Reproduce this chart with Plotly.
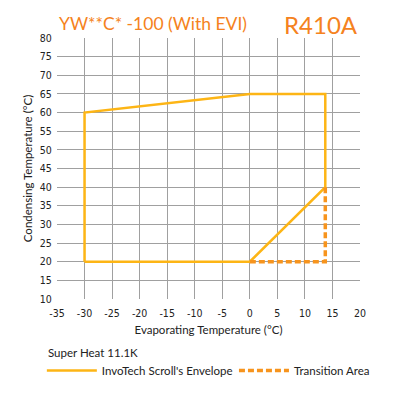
import plotly.graph_objects as go

# Envelope (solid) and transition area (dashed)
env_x = [-30, -30, 0, 13.7, 13.7, 0, -30]
env_y = [20, 60, 65, 65, 40, 20, 20]
trans_x = [0, 13.7, 13.7]
trans_y = [20, 20, 40]

x_ticks = [-35, -30, -25, -20, -15, -10, -5, 0, 5, 10, 15, 20]
x_tick_labels = ["-35", "-30", "-25", "-20", "-15", "-10", "-5", "0", "5", "10", "15", "20"]
y_ticks = [10, 15, 20, 25, 30, 35, 40, 45, 50, 55, 60, 65, 70, 75, 80]

title_left = "YW**C* -100 (With EVI)"
title_right = "R410A"
note = "Super Heat 11.1K"

fig = go.Figure()
fig.add_trace(go.Scatter(x=env_x, y=env_y, mode="lines",
                         line=dict(color="#FDB515", width=2.5),
                         name="InvoTech Scroll's Envelope", legend="legend"))
fig.add_trace(go.Scatter(x=trans_x, y=trans_y, mode="lines",
                         line=dict(color="#F7941D", width=3.5, dash="6px,3px"),
                         name="Transition Area", legend="legend2"))

tick_font = dict(family="DejaVu Sans Condensed, DejaVu Sans", size=10.5, color="#222")
axis_title_font = dict(family="Lato", size=11.5, color="#222")
fig.update_xaxes(range=[-35, 20], tickvals=x_ticks, ticktext=x_tick_labels,
                 showgrid=True, gridcolor="#A0A0A0", gridwidth=1, zeroline=False,
                 showline=False, ticks="outside", ticklen=4, tickcolor="rgba(0,0,0,0)",
                 tickfont=tick_font, automargin=False,
                 title=dict(text="Evaporating Temperature (°C)", font=axis_title_font, standoff=8))
fig.update_yaxes(range=[10, 80], tickvals=y_ticks, showgrid=True, gridcolor="#A0A0A0",
                 gridwidth=1, zeroline=False, showline=False, ticks="outside", ticklen=2,
                 tickcolor="rgba(0,0,0,0)", tickfont=tick_font, automargin=False,
                 title=dict(text="Condensing Temperature (°C)", font=axis_title_font, standoff=4))

fig.add_annotation(text=title_left, xref="paper", yref="paper", x=0.0, y=1.0, yshift=15,
                   xanchor="left", yanchor="middle", showarrow=False,
                   font=dict(family="Lato", size=17.5, color="#F58220"))
fig.add_annotation(text=title_right, xref="paper", yref="paper", x=1.0, y=1.0, yshift=14,
                   xanchor="right", yanchor="middle", showarrow=False,
                   font=dict(family="Lato", size=24, color="#F58220"))
fig.add_annotation(text=note, xref="paper", yref="paper", x=-0.036, y=0, yshift=-53,
                   xanchor="left", yanchor="middle", showarrow=False,
                   font=dict(family="Lato", size=11.5, color="#222"))

legend_font = dict(family="Lato", size=11.5, color="#222")
# Page body has an 8px default margin, so the figure is sized to fit the window.
fig.update_layout(
    width=402, height=391,
    margin=dict(l=49, r=50, t=30, b=100),
    plot_bgcolor="white", paper_bgcolor="white",
    showlegend=True,
    legend=dict(orientation="h", x=-0.05, y=-0.218, yanchor="top", xanchor="left",
                font=legend_font, itemwidth=50, bgcolor="rgba(0,0,0,0)"),
    legend2=dict(orientation="h", x=0.584, y=-0.218, yanchor="top", xanchor="left",
                 font=legend_font, itemwidth=50, bgcolor="rgba(0,0,0,0)"),
)
fig.write_html("out.html")
